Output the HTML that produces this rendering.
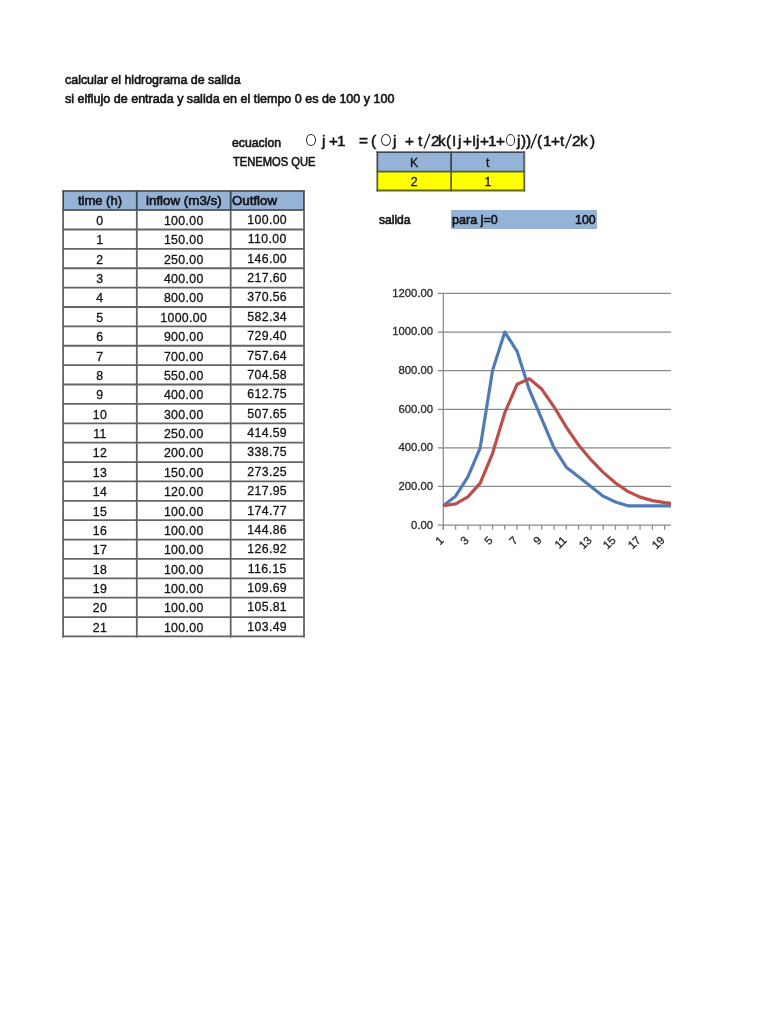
<!DOCTYPE html>
<html><head><meta charset="utf-8"><style>
*{margin:0;padding:0;box-sizing:border-box}
html,body{width:768px;height:1024px;background:#fff;overflow:hidden}
body{position:relative;font-family:"Liberation Sans",sans-serif;color:#141414;font-size:12.3px;-webkit-text-stroke:0.6px #141414}
.t{position:absolute;white-space:nowrap;line-height:1}
.f{position:absolute;white-space:nowrap;line-height:1;transform-origin:0 0}
.c{position:absolute;white-space:nowrap;line-height:1;transform:translateX(-50%)}
.r{position:absolute;white-space:nowrap;line-height:1;transform:translateX(-100%)}
.hl{position:absolute;height:0;border-top:1.7px solid #303030}
.vl{position:absolute;width:0;border-left:1.7px solid #303030}
.box{position:absolute}
</style></head>
<body>
<div class="f" style="left:64.77px;top:73.66px;font-size:12.3px;transform:scaleX(1.0114);">calcular el hidrograma de salida</div>
<div class="f" style="left:64.96px;top:93.26px;font-size:12.3px;transform:scaleX(1.0188);">si elflujo de entrada y salida en el tiempo 0 es de 100 y 100</div>
<div class="f" style="left:232.38px;top:136.76px;font-size:12.3px;transform:scaleX(0.9977);">ecuacion</div>
<div class="f" style="left:232.95px;top:156.06px;font-size:12.3px;transform:scaleX(0.9079);">TENEMOS QUE</div>
<div class="box" style="left:305.80px;top:134.10px;width:10.60px;height:12.00px;border:1.35px solid #2a2a2a;border-radius:50%"></div>
<div class="box" style="left:381.10px;top:134.10px;width:10.20px;height:12.00px;border:1.35px solid #2a2a2a;border-radius:50%"></div>
<div class="box" style="left:505.90px;top:134.20px;width:9.60px;height:11.90px;border:1.35px solid #2a2a2a;border-radius:50%"></div>
<div class="f" style="left:321.58px;top:133.92px;font-size:14.6px;transform:scaleX(1.05);-webkit-text-stroke:0.5px #141414">j</div>
<div class="f" style="left:328.53px;top:133.92px;font-size:14.6px;transform:scaleX(1.05);-webkit-text-stroke:0.5px #141414">+</div>
<div class="f" style="left:337.35px;top:133.92px;font-size:14.6px;transform:scaleX(1.05);-webkit-text-stroke:0.5px #141414">1</div>
<div class="f" style="left:359.13px;top:133.92px;font-size:14.6px;transform:scaleX(1.05);-webkit-text-stroke:0.5px #141414">=</div>
<div class="f" style="left:370.64px;top:133.92px;font-size:14.6px;transform:scaleX(1.05);-webkit-text-stroke:0.5px #141414">(</div>
<div class="f" style="left:393.48px;top:133.92px;font-size:14.6px;transform:scaleX(1.05);-webkit-text-stroke:0.5px #141414">j</div>
<div class="f" style="left:405.33px;top:133.92px;font-size:14.6px;transform:scaleX(1.05);-webkit-text-stroke:0.5px #141414">+</div>
<div class="f" style="left:418.17px;top:133.92px;font-size:14.6px;transform:scaleX(1.05);-webkit-text-stroke:0.5px #141414">t</div>
<div class="f" style="left:430.73px;top:133.92px;font-size:14.6px;transform:scaleX(1.05);-webkit-text-stroke:0.5px #141414">2</div>
<div class="f" style="left:437.57px;top:133.92px;font-size:14.6px;transform:scaleX(1.05);-webkit-text-stroke:0.5px #141414">k</div>
<div class="f" style="left:446.04px;top:133.92px;font-size:14.6px;transform:scaleX(1.05);-webkit-text-stroke:0.5px #141414">(</div>
<div class="f" style="left:452.48px;top:133.92px;font-size:14.6px;transform:scaleX(1.05);-webkit-text-stroke:0.5px #141414">I</div>
<div class="f" style="left:458.38px;top:133.92px;font-size:14.6px;transform:scaleX(1.05);-webkit-text-stroke:0.5px #141414">j</div>
<div class="f" style="left:463.23px;top:133.92px;font-size:14.6px;transform:scaleX(1.05);-webkit-text-stroke:0.5px #141414">+</div>
<div class="f" style="left:471.88px;top:133.92px;font-size:14.6px;transform:scaleX(1.05);-webkit-text-stroke:0.5px #141414">I</div>
<div class="f" style="left:476.08px;top:133.92px;font-size:14.6px;transform:scaleX(1.05);-webkit-text-stroke:0.5px #141414">j</div>
<div class="f" style="left:480.13px;top:133.92px;font-size:14.6px;transform:scaleX(1.05);-webkit-text-stroke:0.5px #141414">+</div>
<div class="f" style="left:487.60px;top:133.92px;font-size:14.6px;transform:scaleX(1.05);-webkit-text-stroke:0.5px #141414">1</div>
<div class="f" style="left:495.63px;top:133.92px;font-size:14.6px;transform:scaleX(1.05);-webkit-text-stroke:0.5px #141414">+</div>
<div class="f" style="left:516.98px;top:133.92px;font-size:14.6px;transform:scaleX(1.05);-webkit-text-stroke:0.5px #141414">j</div>
<div class="f" style="left:521.39px;top:133.92px;font-size:14.6px;transform:scaleX(1.05);-webkit-text-stroke:0.5px #141414">)</div>
<div class="f" style="left:525.69px;top:133.92px;font-size:14.6px;transform:scaleX(1.05);-webkit-text-stroke:0.5px #141414">)</div>
<div class="f" style="left:537.04px;top:133.92px;font-size:14.6px;transform:scaleX(1.05);-webkit-text-stroke:0.5px #141414">(</div>
<div class="f" style="left:542.75px;top:133.92px;font-size:14.6px;transform:scaleX(1.05);-webkit-text-stroke:0.5px #141414">1</div>
<div class="f" style="left:551.03px;top:133.92px;font-size:14.6px;transform:scaleX(1.05);-webkit-text-stroke:0.5px #141414">+</div>
<div class="f" style="left:560.27px;top:133.92px;font-size:14.6px;transform:scaleX(1.05);-webkit-text-stroke:0.5px #141414">t</div>
<div class="f" style="left:572.03px;top:133.92px;font-size:14.6px;transform:scaleX(1.05);-webkit-text-stroke:0.5px #141414">2</div>
<div class="f" style="left:580.37px;top:133.92px;font-size:14.6px;transform:scaleX(1.05);-webkit-text-stroke:0.5px #141414">k</div>
<div class="f" style="left:589.99px;top:133.92px;font-size:14.6px;transform:scaleX(1.05);-webkit-text-stroke:0.5px #141414">)</div>
<svg style="position:absolute;left:0;top:0" width="768" height="1024"><g stroke="#1e1e1e" stroke-width="1.35"><line x1="424.00" y1="148.4" x2="429.80" y2="134.0"/><line x1="530.80" y1="148.4" x2="536.60" y2="134.0"/><line x1="565.50" y1="148.4" x2="571.30" y2="134.0"/></g></svg>
<div class="box" style="left:377.3px;top:152.1px;width:147px;height:19.15px;background:#95b3d7"></div>
<div class="box" style="left:377.3px;top:171.25px;width:147px;height:19.25px;background:#ffff00"></div>
<svg style="position:absolute;left:0;top:0;mix-blend-mode:multiply" width="768" height="1024"><g stroke="#646464" stroke-width="1.8"><line x1="376.40" y1="152.10" x2="525.20" y2="152.10"/><line x1="376.40" y1="171.60" x2="525.20" y2="171.60"/><line x1="376.40" y1="190.50" x2="525.20" y2="190.50"/><line x1="377.30" y1="151.20" x2="377.30" y2="191.40"/><line x1="451.10" y1="151.20" x2="451.10" y2="191.40"/><line x1="524.30" y1="151.20" x2="524.30" y2="191.40"/></g></svg>
<div class="c" style="left:414.40px;top:156.86px;font-size:12.3px;-webkit-text-stroke:0.3px #141414;letter-spacing:0.35px">K</div>
<div class="c" style="left:488.00px;top:156.86px;font-size:12.3px;-webkit-text-stroke:0.3px #141414;letter-spacing:0.35px">t</div>
<div class="c" style="left:414.40px;top:175.76px;font-size:12.3px;-webkit-text-stroke:0.3px #141414;letter-spacing:0.35px">2</div>
<div class="c" style="left:488.00px;top:175.76px;font-size:12.3px;-webkit-text-stroke:0.3px #141414;letter-spacing:0.35px">1</div>
<div class="f" style="left:378.97px;top:214.46px;font-size:12.3px;transform:scaleX(0.9813);">salida</div>
<div class="box" style="left:450.9px;top:210.3px;width:146.2px;height:19.0px;background:#95b3d7"></div>
<div class="f" style="left:451.88px;top:214.46px;font-size:12.3px;transform:scaleX(1.0204);">para j=0</div>
<div class="r" style="left:595.60px;top:214.46px;font-size:12.3px;">100</div>
<div class="box" style="left:63.1px;top:190.9px;width:240.6px;height:19.2px;background:#95b3d7"></div>
<svg style="position:absolute;left:0;top:0;mix-blend-mode:multiply" width="768" height="1024"><g stroke="#646464" stroke-width="1.8"><line x1="62.20" y1="190.90" x2="304.90" y2="190.90"/><line x1="62.20" y1="210.10" x2="304.90" y2="210.10"/><line x1="62.20" y1="229.48" x2="304.90" y2="229.48"/><line x1="62.20" y1="248.86" x2="304.90" y2="248.86"/><line x1="62.20" y1="268.24" x2="304.90" y2="268.24"/><line x1="62.20" y1="287.62" x2="304.90" y2="287.62"/><line x1="62.20" y1="307.00" x2="304.90" y2="307.00"/><line x1="62.20" y1="326.38" x2="304.90" y2="326.38"/><line x1="62.20" y1="345.76" x2="304.90" y2="345.76"/><line x1="62.20" y1="365.14" x2="304.90" y2="365.14"/><line x1="62.20" y1="384.52" x2="304.90" y2="384.52"/><line x1="62.20" y1="403.90" x2="304.90" y2="403.90"/><line x1="62.20" y1="423.28" x2="304.90" y2="423.28"/><line x1="62.20" y1="442.66" x2="304.90" y2="442.66"/><line x1="62.20" y1="462.04" x2="304.90" y2="462.04"/><line x1="62.20" y1="481.42" x2="304.90" y2="481.42"/><line x1="62.20" y1="500.80" x2="304.90" y2="500.80"/><line x1="62.20" y1="520.18" x2="304.90" y2="520.18"/><line x1="62.20" y1="539.56" x2="304.90" y2="539.56"/><line x1="62.20" y1="558.94" x2="304.90" y2="558.94"/><line x1="62.20" y1="578.32" x2="304.90" y2="578.32"/><line x1="62.20" y1="597.70" x2="304.90" y2="597.70"/><line x1="62.20" y1="617.08" x2="304.90" y2="617.08"/><line x1="62.20" y1="636.46" x2="304.90" y2="636.46"/><line x1="63.10" y1="190.00" x2="63.10" y2="637.40"/><line x1="136.80" y1="190.00" x2="136.80" y2="637.40"/><line x1="230.70" y1="190.00" x2="230.70" y2="637.40"/><line x1="304.00" y1="190.00" x2="304.00" y2="637.40"/></g></svg>
<div class="f" style="left:77.71px;top:194.86px;font-size:12.3px;transform:scaleX(1.0554);">time (h)</div>
<div class="f" style="left:146.10px;top:194.86px;font-size:12.3px;transform:scaleX(1.0850);">inflow (m3/s)</div>
<div class="f" style="left:231.97px;top:194.86px;font-size:12.3px;transform:scaleX(1.0791);">Outflow</div>
<div class="c" style="left:99.90px;top:214.86px;font-size:12.3px;-webkit-text-stroke:0.3px #141414;letter-spacing:0.35px">0</div>
<div class="c" style="left:183.75px;top:214.86px;font-size:12.3px;-webkit-text-stroke:0.3px #141414;letter-spacing:0.35px">100.00</div>
<div class="c" style="left:267.20px;top:213.86px;font-size:12.3px;-webkit-text-stroke:0.3px #141414;letter-spacing:0.35px">100.00</div>
<div class="c" style="left:99.90px;top:234.24px;font-size:12.3px;-webkit-text-stroke:0.3px #141414;letter-spacing:0.35px">1</div>
<div class="c" style="left:183.75px;top:234.24px;font-size:12.3px;-webkit-text-stroke:0.3px #141414;letter-spacing:0.35px">150.00</div>
<div class="c" style="left:267.20px;top:233.24px;font-size:12.3px;-webkit-text-stroke:0.3px #141414;letter-spacing:0.35px">110.00</div>
<div class="c" style="left:99.90px;top:253.62px;font-size:12.3px;-webkit-text-stroke:0.3px #141414;letter-spacing:0.35px">2</div>
<div class="c" style="left:183.75px;top:253.62px;font-size:12.3px;-webkit-text-stroke:0.3px #141414;letter-spacing:0.35px">250.00</div>
<div class="c" style="left:267.20px;top:252.62px;font-size:12.3px;-webkit-text-stroke:0.3px #141414;letter-spacing:0.35px">146.00</div>
<div class="c" style="left:99.90px;top:273.00px;font-size:12.3px;-webkit-text-stroke:0.3px #141414;letter-spacing:0.35px">3</div>
<div class="c" style="left:183.75px;top:273.00px;font-size:12.3px;-webkit-text-stroke:0.3px #141414;letter-spacing:0.35px">400.00</div>
<div class="c" style="left:267.20px;top:272.00px;font-size:12.3px;-webkit-text-stroke:0.3px #141414;letter-spacing:0.35px">217.60</div>
<div class="c" style="left:99.90px;top:292.38px;font-size:12.3px;-webkit-text-stroke:0.3px #141414;letter-spacing:0.35px">4</div>
<div class="c" style="left:183.75px;top:292.38px;font-size:12.3px;-webkit-text-stroke:0.3px #141414;letter-spacing:0.35px">800.00</div>
<div class="c" style="left:267.20px;top:291.38px;font-size:12.3px;-webkit-text-stroke:0.3px #141414;letter-spacing:0.35px">370.56</div>
<div class="c" style="left:99.90px;top:311.76px;font-size:12.3px;-webkit-text-stroke:0.3px #141414;letter-spacing:0.35px">5</div>
<div class="c" style="left:183.75px;top:311.76px;font-size:12.3px;-webkit-text-stroke:0.3px #141414;letter-spacing:0.35px">1000.00</div>
<div class="c" style="left:267.20px;top:310.76px;font-size:12.3px;-webkit-text-stroke:0.3px #141414;letter-spacing:0.35px">582.34</div>
<div class="c" style="left:99.90px;top:331.14px;font-size:12.3px;-webkit-text-stroke:0.3px #141414;letter-spacing:0.35px">6</div>
<div class="c" style="left:183.75px;top:331.14px;font-size:12.3px;-webkit-text-stroke:0.3px #141414;letter-spacing:0.35px">900.00</div>
<div class="c" style="left:267.20px;top:330.14px;font-size:12.3px;-webkit-text-stroke:0.3px #141414;letter-spacing:0.35px">729.40</div>
<div class="c" style="left:99.90px;top:350.52px;font-size:12.3px;-webkit-text-stroke:0.3px #141414;letter-spacing:0.35px">7</div>
<div class="c" style="left:183.75px;top:350.52px;font-size:12.3px;-webkit-text-stroke:0.3px #141414;letter-spacing:0.35px">700.00</div>
<div class="c" style="left:267.20px;top:349.52px;font-size:12.3px;-webkit-text-stroke:0.3px #141414;letter-spacing:0.35px">757.64</div>
<div class="c" style="left:99.90px;top:369.90px;font-size:12.3px;-webkit-text-stroke:0.3px #141414;letter-spacing:0.35px">8</div>
<div class="c" style="left:183.75px;top:369.90px;font-size:12.3px;-webkit-text-stroke:0.3px #141414;letter-spacing:0.35px">550.00</div>
<div class="c" style="left:267.20px;top:368.90px;font-size:12.3px;-webkit-text-stroke:0.3px #141414;letter-spacing:0.35px">704.58</div>
<div class="c" style="left:99.90px;top:389.28px;font-size:12.3px;-webkit-text-stroke:0.3px #141414;letter-spacing:0.35px">9</div>
<div class="c" style="left:183.75px;top:389.28px;font-size:12.3px;-webkit-text-stroke:0.3px #141414;letter-spacing:0.35px">400.00</div>
<div class="c" style="left:267.20px;top:388.28px;font-size:12.3px;-webkit-text-stroke:0.3px #141414;letter-spacing:0.35px">612.75</div>
<div class="c" style="left:99.90px;top:408.66px;font-size:12.3px;-webkit-text-stroke:0.3px #141414;letter-spacing:0.35px">10</div>
<div class="c" style="left:183.75px;top:408.66px;font-size:12.3px;-webkit-text-stroke:0.3px #141414;letter-spacing:0.35px">300.00</div>
<div class="c" style="left:267.20px;top:407.66px;font-size:12.3px;-webkit-text-stroke:0.3px #141414;letter-spacing:0.35px">507.65</div>
<div class="c" style="left:99.90px;top:428.04px;font-size:12.3px;-webkit-text-stroke:0.3px #141414;letter-spacing:0.35px">11</div>
<div class="c" style="left:183.75px;top:428.04px;font-size:12.3px;-webkit-text-stroke:0.3px #141414;letter-spacing:0.35px">250.00</div>
<div class="c" style="left:267.20px;top:427.04px;font-size:12.3px;-webkit-text-stroke:0.3px #141414;letter-spacing:0.35px">414.59</div>
<div class="c" style="left:99.90px;top:447.42px;font-size:12.3px;-webkit-text-stroke:0.3px #141414;letter-spacing:0.35px">12</div>
<div class="c" style="left:183.75px;top:447.42px;font-size:12.3px;-webkit-text-stroke:0.3px #141414;letter-spacing:0.35px">200.00</div>
<div class="c" style="left:267.20px;top:446.42px;font-size:12.3px;-webkit-text-stroke:0.3px #141414;letter-spacing:0.35px">338.75</div>
<div class="c" style="left:99.90px;top:466.80px;font-size:12.3px;-webkit-text-stroke:0.3px #141414;letter-spacing:0.35px">13</div>
<div class="c" style="left:183.75px;top:466.80px;font-size:12.3px;-webkit-text-stroke:0.3px #141414;letter-spacing:0.35px">150.00</div>
<div class="c" style="left:267.20px;top:465.80px;font-size:12.3px;-webkit-text-stroke:0.3px #141414;letter-spacing:0.35px">273.25</div>
<div class="c" style="left:99.90px;top:486.18px;font-size:12.3px;-webkit-text-stroke:0.3px #141414;letter-spacing:0.35px">14</div>
<div class="c" style="left:183.75px;top:486.18px;font-size:12.3px;-webkit-text-stroke:0.3px #141414;letter-spacing:0.35px">120.00</div>
<div class="c" style="left:267.20px;top:485.18px;font-size:12.3px;-webkit-text-stroke:0.3px #141414;letter-spacing:0.35px">217.95</div>
<div class="c" style="left:99.90px;top:505.56px;font-size:12.3px;-webkit-text-stroke:0.3px #141414;letter-spacing:0.35px">15</div>
<div class="c" style="left:183.75px;top:505.56px;font-size:12.3px;-webkit-text-stroke:0.3px #141414;letter-spacing:0.35px">100.00</div>
<div class="c" style="left:267.20px;top:504.56px;font-size:12.3px;-webkit-text-stroke:0.3px #141414;letter-spacing:0.35px">174.77</div>
<div class="c" style="left:99.90px;top:524.94px;font-size:12.3px;-webkit-text-stroke:0.3px #141414;letter-spacing:0.35px">16</div>
<div class="c" style="left:183.75px;top:524.94px;font-size:12.3px;-webkit-text-stroke:0.3px #141414;letter-spacing:0.35px">100.00</div>
<div class="c" style="left:267.20px;top:523.94px;font-size:12.3px;-webkit-text-stroke:0.3px #141414;letter-spacing:0.35px">144.86</div>
<div class="c" style="left:99.90px;top:544.32px;font-size:12.3px;-webkit-text-stroke:0.3px #141414;letter-spacing:0.35px">17</div>
<div class="c" style="left:183.75px;top:544.32px;font-size:12.3px;-webkit-text-stroke:0.3px #141414;letter-spacing:0.35px">100.00</div>
<div class="c" style="left:267.20px;top:543.32px;font-size:12.3px;-webkit-text-stroke:0.3px #141414;letter-spacing:0.35px">126.92</div>
<div class="c" style="left:99.90px;top:563.70px;font-size:12.3px;-webkit-text-stroke:0.3px #141414;letter-spacing:0.35px">18</div>
<div class="c" style="left:183.75px;top:563.70px;font-size:12.3px;-webkit-text-stroke:0.3px #141414;letter-spacing:0.35px">100.00</div>
<div class="c" style="left:267.20px;top:562.70px;font-size:12.3px;-webkit-text-stroke:0.3px #141414;letter-spacing:0.35px">116.15</div>
<div class="c" style="left:99.90px;top:583.08px;font-size:12.3px;-webkit-text-stroke:0.3px #141414;letter-spacing:0.35px">19</div>
<div class="c" style="left:183.75px;top:583.08px;font-size:12.3px;-webkit-text-stroke:0.3px #141414;letter-spacing:0.35px">100.00</div>
<div class="c" style="left:267.20px;top:582.08px;font-size:12.3px;-webkit-text-stroke:0.3px #141414;letter-spacing:0.35px">109.69</div>
<div class="c" style="left:99.90px;top:602.46px;font-size:12.3px;-webkit-text-stroke:0.3px #141414;letter-spacing:0.35px">20</div>
<div class="c" style="left:183.75px;top:602.46px;font-size:12.3px;-webkit-text-stroke:0.3px #141414;letter-spacing:0.35px">100.00</div>
<div class="c" style="left:267.20px;top:601.46px;font-size:12.3px;-webkit-text-stroke:0.3px #141414;letter-spacing:0.35px">105.81</div>
<div class="c" style="left:99.90px;top:621.84px;font-size:12.3px;-webkit-text-stroke:0.3px #141414;letter-spacing:0.35px">21</div>
<div class="c" style="left:183.75px;top:621.84px;font-size:12.3px;-webkit-text-stroke:0.3px #141414;letter-spacing:0.35px">100.00</div>
<div class="c" style="left:267.20px;top:620.84px;font-size:12.3px;-webkit-text-stroke:0.3px #141414;letter-spacing:0.35px">103.49</div>
<svg style="position:absolute;left:0;top:0" width="768" height="1024">
<defs><clipPath id="pc"><rect x="380" y="280" width="290.9" height="260"/></clipPath></defs>
<line x1="437.8" y1="525.10" x2="670.9" y2="525.10" stroke="#8a8a8a" stroke-width="1.25"/>
<line x1="437.8" y1="486.48" x2="670.9" y2="486.48" stroke="#8a8a8a" stroke-width="1.25"/>
<line x1="437.8" y1="447.87" x2="670.9" y2="447.87" stroke="#8a8a8a" stroke-width="1.25"/>
<line x1="437.8" y1="409.25" x2="670.9" y2="409.25" stroke="#8a8a8a" stroke-width="1.25"/>
<line x1="437.8" y1="370.63" x2="670.9" y2="370.63" stroke="#8a8a8a" stroke-width="1.25"/>
<line x1="437.8" y1="332.02" x2="670.9" y2="332.02" stroke="#8a8a8a" stroke-width="1.25"/>
<line x1="437.8" y1="293.40" x2="670.9" y2="293.40" stroke="#8a8a8a" stroke-width="1.25"/>
<line x1="443.3" y1="293.40" x2="443.3" y2="529.7" stroke="#8a8a8a" stroke-width="1.25"/>
<line x1="443.30" y1="525.1" x2="443.30" y2="529.7" stroke="#8a8a8a" stroke-width="1.25"/>
<line x1="455.60" y1="525.1" x2="455.60" y2="529.7" stroke="#8a8a8a" stroke-width="1.25"/>
<line x1="467.90" y1="525.1" x2="467.90" y2="529.7" stroke="#8a8a8a" stroke-width="1.25"/>
<line x1="480.20" y1="525.1" x2="480.20" y2="529.7" stroke="#8a8a8a" stroke-width="1.25"/>
<line x1="492.50" y1="525.1" x2="492.50" y2="529.7" stroke="#8a8a8a" stroke-width="1.25"/>
<line x1="504.80" y1="525.1" x2="504.80" y2="529.7" stroke="#8a8a8a" stroke-width="1.25"/>
<line x1="517.10" y1="525.1" x2="517.10" y2="529.7" stroke="#8a8a8a" stroke-width="1.25"/>
<line x1="529.40" y1="525.1" x2="529.40" y2="529.7" stroke="#8a8a8a" stroke-width="1.25"/>
<line x1="541.70" y1="525.1" x2="541.70" y2="529.7" stroke="#8a8a8a" stroke-width="1.25"/>
<line x1="554.00" y1="525.1" x2="554.00" y2="529.7" stroke="#8a8a8a" stroke-width="1.25"/>
<line x1="566.30" y1="525.1" x2="566.30" y2="529.7" stroke="#8a8a8a" stroke-width="1.25"/>
<line x1="578.60" y1="525.1" x2="578.60" y2="529.7" stroke="#8a8a8a" stroke-width="1.25"/>
<line x1="590.90" y1="525.1" x2="590.90" y2="529.7" stroke="#8a8a8a" stroke-width="1.25"/>
<line x1="603.20" y1="525.1" x2="603.20" y2="529.7" stroke="#8a8a8a" stroke-width="1.25"/>
<line x1="615.50" y1="525.1" x2="615.50" y2="529.7" stroke="#8a8a8a" stroke-width="1.25"/>
<line x1="627.80" y1="525.1" x2="627.80" y2="529.7" stroke="#8a8a8a" stroke-width="1.25"/>
<line x1="640.10" y1="525.1" x2="640.10" y2="529.7" stroke="#8a8a8a" stroke-width="1.25"/>
<line x1="652.40" y1="525.1" x2="652.40" y2="529.7" stroke="#8a8a8a" stroke-width="1.25"/>
<line x1="664.70" y1="525.1" x2="664.70" y2="529.7" stroke="#8a8a8a" stroke-width="1.25"/>
<g clip-path="url(#pc)"><polyline points="443.30,505.79 455.60,496.14 467.90,476.83 480.20,447.87 492.50,370.63 504.80,332.02 517.10,351.32 529.40,389.94 541.70,418.90 554.00,447.87 566.30,467.18 578.60,476.83 590.90,486.48 603.20,496.14 615.50,501.93 627.80,505.79 640.10,505.79 652.40,505.79 664.70,505.79 677.00,505.79 689.30,505.79 701.60,505.79" fill="none" stroke="#4f7cb5" stroke-width="3.2" stroke-linejoin="round"/>
<polyline points="443.30,505.79 455.60,503.86 467.90,496.91 480.20,483.09 492.50,453.55 504.80,412.66 517.10,384.27 529.40,378.81 541.70,389.06 554.00,406.79 566.30,427.08 578.60,445.05 590.90,459.69 603.20,472.34 615.50,483.02 627.80,491.35 640.10,497.13 652.40,500.59 664.70,502.67 677.00,503.92 689.30,504.67 701.60,505.12" fill="none" stroke="#bb4f4b" stroke-width="3.2" stroke-linejoin="round"/></g>
</svg>
<div class="r" style="left:433.00px;top:519.56px;font-size:11.3px;color:#2a2a2a;-webkit-text-stroke:0.3px #2a2a2a">0.00</div>
<div class="r" style="left:433.00px;top:480.94px;font-size:11.3px;color:#2a2a2a;-webkit-text-stroke:0.3px #2a2a2a">200.00</div>
<div class="r" style="left:433.00px;top:442.33px;font-size:11.3px;color:#2a2a2a;-webkit-text-stroke:0.3px #2a2a2a">400.00</div>
<div class="r" style="left:433.00px;top:403.71px;font-size:11.3px;color:#2a2a2a;-webkit-text-stroke:0.3px #2a2a2a">600.00</div>
<div class="r" style="left:433.00px;top:365.09px;font-size:11.3px;color:#2a2a2a;-webkit-text-stroke:0.3px #2a2a2a">800.00</div>
<div class="r" style="left:433.00px;top:326.48px;font-size:11.3px;color:#2a2a2a;-webkit-text-stroke:0.3px #2a2a2a">1000.00</div>
<div class="r" style="left:433.00px;top:287.86px;font-size:11.3px;color:#2a2a2a;-webkit-text-stroke:0.3px #2a2a2a">1200.00</div>
<div class="t" style="left:402.00px;top:532.50px;width:40px;height:11px;text-align:right;font-size:11.3px;color:#2a2a2a;-webkit-text-stroke:0.3px #2a2a2a;transform-origin:100% 50%;transform:rotate(-45deg)">1</div>
<div class="t" style="left:426.60px;top:532.50px;width:40px;height:11px;text-align:right;font-size:11.3px;color:#2a2a2a;-webkit-text-stroke:0.3px #2a2a2a;transform-origin:100% 50%;transform:rotate(-45deg)">3</div>
<div class="t" style="left:451.20px;top:532.50px;width:40px;height:11px;text-align:right;font-size:11.3px;color:#2a2a2a;-webkit-text-stroke:0.3px #2a2a2a;transform-origin:100% 50%;transform:rotate(-45deg)">5</div>
<div class="t" style="left:475.80px;top:532.50px;width:40px;height:11px;text-align:right;font-size:11.3px;color:#2a2a2a;-webkit-text-stroke:0.3px #2a2a2a;transform-origin:100% 50%;transform:rotate(-45deg)">7</div>
<div class="t" style="left:500.40px;top:532.50px;width:40px;height:11px;text-align:right;font-size:11.3px;color:#2a2a2a;-webkit-text-stroke:0.3px #2a2a2a;transform-origin:100% 50%;transform:rotate(-45deg)">9</div>
<div class="t" style="left:525.00px;top:532.50px;width:40px;height:11px;text-align:right;font-size:11.3px;color:#2a2a2a;-webkit-text-stroke:0.3px #2a2a2a;transform-origin:100% 50%;transform:rotate(-45deg)">11</div>
<div class="t" style="left:549.60px;top:532.50px;width:40px;height:11px;text-align:right;font-size:11.3px;color:#2a2a2a;-webkit-text-stroke:0.3px #2a2a2a;transform-origin:100% 50%;transform:rotate(-45deg)">13</div>
<div class="t" style="left:574.20px;top:532.50px;width:40px;height:11px;text-align:right;font-size:11.3px;color:#2a2a2a;-webkit-text-stroke:0.3px #2a2a2a;transform-origin:100% 50%;transform:rotate(-45deg)">15</div>
<div class="t" style="left:598.80px;top:532.50px;width:40px;height:11px;text-align:right;font-size:11.3px;color:#2a2a2a;-webkit-text-stroke:0.3px #2a2a2a;transform-origin:100% 50%;transform:rotate(-45deg)">17</div>
<div class="t" style="left:623.40px;top:532.50px;width:40px;height:11px;text-align:right;font-size:11.3px;color:#2a2a2a;-webkit-text-stroke:0.3px #2a2a2a;transform-origin:100% 50%;transform:rotate(-45deg)">19</div>
</body></html>
